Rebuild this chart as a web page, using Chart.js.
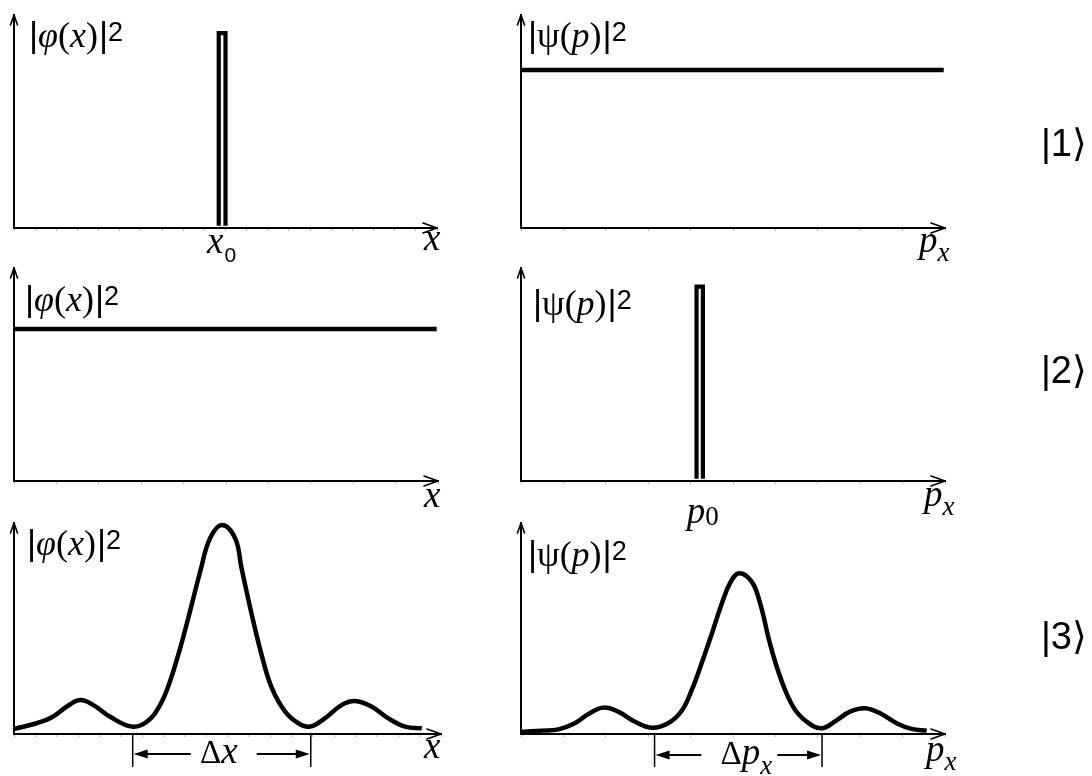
<!DOCTYPE html>
<html>
<head>
<meta charset="utf-8">
<title>Position and momentum probability densities</title>
<script src="https://cdn.jsdelivr.net/npm/chart.js@4.4.1/dist/chart.umd.min.js"></script>
<style>
  html, body { margin:0; padding:0; background:#fff; }
  body { width:1092px; height:776px; position:relative; overflow:hidden; }
  canvas { position:absolute; display:block; }
</style>
</head>
<body>
<canvas id="p1"></canvas>
<canvas id="p2"></canvas>
<canvas id="p3"></canvas>
<canvas id="p4"></canvas>
<canvas id="p5"></canvas>
<canvas id="p6"></canvas>
<script>
// ================= DATA =================
const axisMin = 0;
const axisMax = 10;
const stateLabels = ['|1⟩', '|2⟩', '|3⟩'];

// state |1> : sharp position, flat momentum
const state1PositionX = [4.84, 4.84, 5.00, 5.00];
const state1PositionY = [0.1, 9.15, 9.15, 0.1];
const state1MomentumX = [0, 9.97];
const state1MomentumY = [7.42, 7.42];

// state |2> : flat position, sharp momentum
const state2PositionX = [0, 9.97];
const state2PositionY = [7.14, 7.14];
const state2MomentumX = [4.14, 4.14, 4.29, 4.29];
const state2MomentumY = [0.1, 9.13, 9.13, 0.1];

// state |3> : wave packet in both
const state3PositionX = [0, 0.53, 0.91, 1.23, 1.55, 1.86, 2.25, 2.76, 3.11, 3.42, 3.65, 3.89, 4.12, 4.36, 4.59, 4.87, 5.18, 5.33, 5.57, 5.80, 6.04, 6.35, 6.66, 6.93, 7.28, 7.67, 7.99, 8.38, 8.77, 9.16, 9.55];
const state3PositionY = [0.24, 0.51, 0.82, 1.29, 1.61, 1.37, 0.82, 0.35, 0.58, 1.37, 2.48, 4.06, 5.80, 7.69, 9.27, 9.91, 9.27, 7.85, 5.64, 3.74, 2.17, 1.06, 0.51, 0.35, 0.74, 1.37, 1.56, 1.29, 0.74, 0.35, 0.27];
const state3MomentumX = [0, 0.49, 0.88, 1.27, 1.59, 1.94, 2.29, 2.69, 3.08, 3.47, 3.79, 4.03, 4.26, 4.50, 4.73, 4.93, 5.14, 5.44, 5.64, 5.87, 6.11, 6.42, 6.74, 7.09, 7.45, 7.76, 8.11, 8.47, 8.86, 9.21, 9.57];
const state3MomentumY = [0.10, 0.16, 0.22, 0.51, 0.95, 1.25, 1.06, 0.58, 0.30, 0.51, 1.10, 2.10, 3.35, 4.75, 6.15, 7.15, 7.62, 7.22, 6.19, 4.30, 2.72, 1.29, 0.58, 0.27, 0.66, 1.06, 1.22, 0.98, 0.51, 0.24, 0.16];
const state3PositionSpread = [2.78, 6.95];
const state3MomentumSpread = [3.15, 7.10];

// ================= STYLE =================
const SERIF = '"Liberation Serif","Times New Roman",serif';
const SANS = '"Liberation Sans",Arial,"DejaVu Sans",sans-serif';
const F = {
  bar: `35px ${SANS}`,
  sup: `27px ${SANS}`,
  ital: `italic 36px ${SERIF}`,
  rom: `36px ${SERIF}`,
  axis: `italic 37px ${SERIF}`,
  sub: `italic 27px ${SERIF}`,
  subSans: `21px ${SANS}`,
  subRom: `27px ${SERIF}`,
  state: `38px "Liberation Sans", Arial, "DejaVu Sans", sans-serif`,
  delta: `33px ${SERIF}`
};
const posTitle = [{t:'|',f:F.bar},{t:'φ',f:F.ital},{t:'(',f:F.rom},{t:'x',f:F.ital},{t:')',f:F.rom,k:1},{t:'|',f:F.bar},{t:'2',f:F.sup,dy:-6}];
const momTitle = [{t:'|',f:F.bar},{t:'ψ',f:F.rom},{t:'(',f:F.rom},{t:'p',f:F.ital},{t:')',f:F.rom,k:1},{t:'|',f:F.bar},{t:'2',f:F.sup,dy:-6}];
const xAxisTitle = [{t:'x',f:F.axis}];
const pAxisTitle = [{t:'p',f:F.axis},{t:'x',f:F.sub,dy:9}];
const x0Title = [{t:'x',f:F.axis,k:1},{t:'0',f:F.subSans,dy:9}];
const p0Title = [{t:'p',f:F.axis},{t:'0',f:F.subRom,dy:2}];
const dxTitle = [{t:'Δ',f:F.delta},{t:'x',f:F.axis}];
const dpTitle = [{t:'Δ',f:F.delta},{t:'p',f:F.axis},{t:'x',f:F.sub,dy:10}];

function drawRuns(ctx, x, y, runs, align) {
  let w = 0;
  runs.forEach(r => { ctx.font = r.f; w += ctx.measureText(r.t).width + (r.k || 0); });
  let cx = align === 'center' ? x - w / 2 : x;
  runs.forEach(r => {
    ctx.font = r.f;
    ctx.fillText(r.t, cx, y + (r.dy || 0));
    cx += ctx.measureText(r.t).width + (r.k || 0);
  });
}

function decor(cfg) {
  return {
    id: 'decor',
    afterDraw(chart) {
      const ctx = chart.ctx, a = chart.chartArea;
      const xs = chart.scales.x;
      const ox = cfg.cell[0], oy = cfg.cell[1];
      ctx.save();
      ctx.strokeStyle = '#000';
      ctx.fillStyle = '#000';
      ctx.lineCap = 'round';
      ctx.lineJoin = 'round';
      // axis arrow heads
      ctx.lineWidth = 1.6;
      ctx.beginPath();
      ctx.moveTo(a.left - 3.5, a.top + 10); ctx.lineTo(a.left, a.top); ctx.lineTo(a.left + 3.5, a.top + 10);
      ctx.stroke();
      ctx.beginPath();
      ctx.moveTo(a.right - 14, a.bottom - 5); ctx.lineTo(a.right, a.bottom); ctx.lineTo(a.right - 14, a.bottom + 5);
      ctx.stroke();
      ctx.textBaseline = 'alphabetic';
      ctx.textAlign = 'left';
      // titles
      drawRuns(ctx, cfg.yTitleAt[0] - ox, cfg.yTitleAt[1] - oy, cfg.yTitle);
      drawRuns(ctx, cfg.xTitleAt[0] - ox, cfg.xTitleAt[1] - oy, cfg.xTitle);
      // spike label
      if (cfg.peakTitle) {
        const px = cfg.peakData;
        const c = xs.getPixelForValue((Math.min(...px) + Math.max(...px)) / 2);
        drawRuns(ctx, c + cfg.peakDx, cfg.peakBaseline - oy, cfg.peakTitle);
      }
      // spread marker
      if (cfg.spread) {
        const x1 = xs.getPixelForValue(cfg.spread[0]);
        const x2 = xs.getPixelForValue(cfg.spread[1]);
        const yb = a.bottom, yl = yb + 33, ya = yb + cfg.arrowDy;
        ctx.lineCap = 'butt';
        ctx.lineWidth = 1.5;
        ctx.beginPath();
        ctx.moveTo(x1, yb); ctx.lineTo(x1, yl);
        ctx.moveTo(x2, yb); ctx.lineTo(x2, yl);
        ctx.stroke();
        const mid = (x1 + x2) / 2;
        ctx.lineWidth = 2;
        ctx.beginPath();
        ctx.moveTo(mid + cfg.gap[0], ya); ctx.lineTo(x1 + 10, ya);
        ctx.moveTo(mid + cfg.gap[1], ya); ctx.lineTo(x2 - 10, ya);
        ctx.stroke();
        ctx.beginPath();
        ctx.moveTo(x1 + 1, ya); ctx.lineTo(x1 + 15, ya - 4.5); ctx.lineTo(x1 + 15, ya + 4.5); ctx.closePath(); ctx.fill();
        ctx.beginPath();
        ctx.moveTo(x2 - 1, ya); ctx.lineTo(x2 - 15, ya - 4.5); ctx.lineTo(x2 - 15, ya + 4.5); ctx.closePath(); ctx.fill();
        drawRuns(ctx, mid + cfg.textDx, ya + 9, cfg.spreadTitle, 'center');
      }
      // state label
      if (cfg.state !== undefined) {
        ctx.font = F.state;
        ctx.fillText(stateLabels[cfg.state], 1041 - ox, cfg.stateBaseline - oy);
      }
      ctx.restore();
    }
  };
}

const panels = [
  { id:'p1', cell:[0,0,480,275], pad:{left:14,right:43,top:15,bottom:47},
    xs:state1PositionX, ys:state1PositionY, smooth:false, step:0.5, lw:4.2,
    yTitle:posTitle, yTitleAt:[29,47], xTitle:xAxisTitle, xTitleAt:[424,250],
    peakTitle:x0Title, peakData:state1PositionX, peakDx:-15, peakBaseline:253 },
  { id:'p2', cell:[480,0,612,275], pad:{left:41,right:147,top:15,bottom:47},
    xs:state1MomentumX, ys:state1MomentumY, smooth:false, step:1, lw:4.5,
    yTitle:momTitle, yTitleAt:[528,47], xTitle:pAxisTitle, xTitleAt:[919,252],
    state:0, stateBaseline:156 },
  { id:'p3', cell:[0,258,480,282], pad:{left:14,right:42,top:10,bottom:59},
    xs:state2PositionX, ys:state2PositionY, smooth:false, step:1, lw:4.5,
    yTitle:posTitle, yTitleAt:[25,311], xTitle:xAxisTitle, xTitleAt:[424,507] },
  { id:'p4', cell:[480,258,612,282], pad:{left:41,right:147,top:10,bottom:59},
    xs:state2MomentumX, ys:state2MomentumY, smooth:false, step:1, lw:4.2,
    yTitle:momTitle, yTitleAt:[533,315], xTitle:pAxisTitle, xTitleAt:[924,506],
    peakTitle:p0Title, peakData:state2MomentumX, peakDx:-13, peakBaseline:523,
    state:1, stateBaseline:383 },
  { id:'p5', cell:[0,512,480,264], pad:{left:14,right:39,top:11,bottom:42},
    xs:state3PositionX, ys:state3PositionY, smooth:true, step:0.5, lw:4.5,
    yTitle:posTitle, yTitleAt:[27,555], xTitle:xAxisTitle, xTitleAt:[424,758],
    spread:state3PositionSpread, spreadTitle:dxTitle, arrowDy:20, gap:[-31,35], textDx:-3 },
  { id:'p6', cell:[480,512,612,264], pad:{left:41,right:147,top:11,bottom:42},
    xs:state3MomentumX, ys:state3MomentumY, smooth:true, step:1, lw:4.5,
    yTitle:momTitle, yTitleAt:[528,566], xTitle:pAxisTitle, xTitleAt:[926,761],
    spread:state3MomentumSpread, spreadTitle:dpTitle, arrowDy:21, gap:[-37,39], textDx:8,
    state:2, stateBaseline:649 }
];

panels.forEach(p => {
  const cv = document.getElementById(p.id);
  cv.width = p.cell[2]; cv.height = p.cell[3];
  cv.style.left = p.cell[0] + 'px'; cv.style.top = p.cell[1] + 'px';
  cv.style.width = p.cell[2] + 'px'; cv.style.height = p.cell[3] + 'px';
  new Chart(cv.getContext('2d'), {
    type: 'line',
    data: {
      datasets: [{
        data: p.xs.map((x, i) => ({ x: x, y: p.ys[i] })),
        borderColor: '#000',
        borderWidth: p.lw,
        pointRadius: 0,
        fill: false,
        tension: p.smooth ? 0.4 : 0,
        borderJoinStyle: p.smooth ? 'round' : 'miter',
        borderCapStyle: 'butt',
        clip: false
      }]
    },
    options: {
      responsive: false,
      animation: false,
      devicePixelRatio: 1,
      layout: { padding: p.pad },
      events: [],
      plugins: { legend: { display: false }, tooltip: { enabled: false }, title: { display: false } },
      scales: {
        x: {
          type: 'linear', position: 'bottom', min: axisMin, max: axisMax,
          ticks: { display: false, stepSize: p.step },
          grid: { display: true, drawOnChartArea: false, drawTicks: true, tickLength: 3, color: '#b4b4b4', lineWidth: 1 },
          border: { display: true, color: '#000', width: 2 },
          afterFit: s => { s.height = 0; }
        },
        y: {
          type: 'linear', position: 'left', min: axisMin, max: axisMax,
          ticks: { display: false },
          grid: { display: false, drawTicks: false },
          border: { display: true, color: '#000', width: 2 },
          afterFit: s => { s.width = 0; }
        }
      }
    },
    plugins: [decor(p)]
  });
});
</script>
</body>
</html>
